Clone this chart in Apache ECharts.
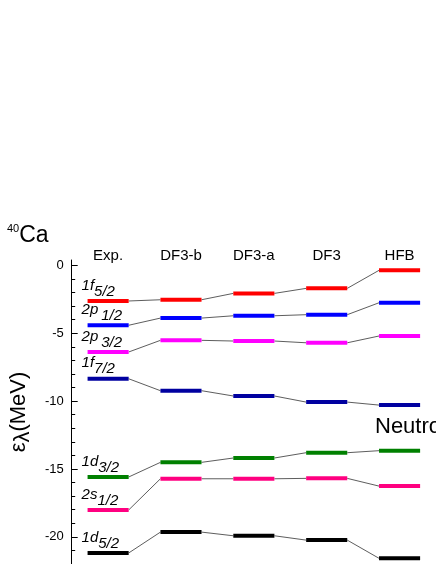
<!DOCTYPE html>
<html>
<head>
<meta charset="utf-8">
<script src="https://cdn.jsdelivr.net/npm/echarts@6/dist/echarts.min.js"></script>
<style>html,body{margin:0;padding:0;background:#fff;}#c{width:436px;height:564px;}</style>
</head>
<body>
<div id="c"></div>
<script>
var categories = ['Exp.', 'DF3-b', 'DF3-a', 'DF3', 'HFB'];
var lev1f52 = [-2.62, -2.53, -2.06, -1.69, -0.36];
var lev2p12 = [-4.41, -3.88, -3.71, -3.63, -2.75];
var lev2p32 = [-6.38, -5.52, -5.57, -5.70, -5.20];
var lev1f72 = [-8.35, -9.23, -9.62, -10.07, -10.29];
var lev1d32 = [-15.59, -14.51, -14.19, -13.80, -13.65];
var lev2s12 = [-18.02, -15.72, -15.72, -15.69, -16.26];
var lev1d52 = [-21.19, -19.65, -19.92, -20.24, -21.58];
var orbitalMain = ['1f', '2p', '2p', '1f', '1d', '2s', '1d'];
var orbitalSub = ['5/2', '1/2', '3/2', '7/2', '3/2', '1/2', '5/2'];
var majorTicks = [-20, -15, -10, -5, 0];
var minorTicks = [-22, -21, -19, -18, -17, -16, -14, -13, -12, -11, -9, -8, -7, -6, -4, -3, -2, -1];

var levels = [lev1f52, lev2p12, lev2p32, lev1f72, lev1d32, lev2s12, lev1d52];
var colors = ['#ff0000', '#0000ff', '#ff00ff', '#0000a0', '#008000', '#ff0080', '#000000'];
var FONT = 'Liberation Sans, Arial, sans-serif';
var LFS = 15;

var mctx = document.createElement('canvas').getContext('2d');
mctx.font = 'italic ' + LFS + 'px ' + FONT;
function textW(t) { return mctx.measureText(t).width; }

function makeSeries(k) {
  var arr = levels[k];
  return {
    type: 'custom',
    coordinateSystem: 'cartesian2d',
    data: arr.map(function (v, i) { return [i, v]; }),
    renderItem: function (params, api) {
      var i = api.value(0);
      var v = api.value(1);
      var c = api.coord([i, v]);
      var band = api.size([1, 0])[0];
      var half = band * 0.282;
      var children = [{
        type: 'line',
        shape: { x1: c[0] - half, y1: c[1], x2: c[0] + half, y2: c[1] },
        style: { stroke: colors[k], lineWidth: 4, lineCap: 'butt' },
        z2: 10
      }];
      if (i > 0) {
        var p = api.coord([i - 1, arr[i - 1]]);
        children.push({
          type: 'line',
          shape: { x1: p[0] + half, y1: p[1], x2: c[0] - half, y2: c[1] },
          style: { stroke: '#333', lineWidth: 0.8 },
          z2: 5
        });
      } else {
        var x0 = c[0] - half - 6;
        var mw = textW(orbitalMain[k]);
        var gap = orbitalMain[k].charAt(1) === 'p' ? 3 : 0;
        children.push({
          type: 'text',
          x: x0,
          y: c[1] - 23,
          style: {
            text: orbitalMain[k], fontSize: LFS, fontStyle: 'italic', fontFamily: FONT,
            fill: '#000', verticalAlign: 'top', align: 'left'
          }
        });
        children.push({
          type: 'text',
          x: x0 + mw + gap,
          y: c[1] - 17,
          style: {
            text: orbitalSub[k], fontSize: LFS, fontStyle: 'italic', fontFamily: FONT,
            fill: '#000', verticalAlign: 'top', align: 'left'
          }
        });
      }
      return { type: 'group', children: children };
    },
    silent: true,
    animation: false
  };
}

var chart = echarts.init(document.getElementById('c'), null, { renderer: 'canvas' });
chart.setOption({
  animation: false,
  backgroundColor: '#fff',
  title: {
    text: '{sup|40}{m|Ca}',
    left: 2,
    top: 218,
    textStyle: {
      fontWeight: 'normal',
      rich: {
        sup: { fontSize: 11, fontFamily: FONT, color: '#000', fontWeight: 'normal', verticalAlign: 'top', lineHeight: 24 },
        m: { fontSize: 23, fontFamily: FONT, color: '#000', fontWeight: 'normal', verticalAlign: 'bottom', lineHeight: 24 }
      }
    }
  },
  graphic: [{
    type: 'text',
    left: 375,
    top: 416,
    style: { text: 'Neutron', fontSize: 22, fontFamily: FONT, fill: '#000' }
  }],
  grid: { left: 67, right: -38.5, top: 260, bottom: 0, containLabel: false },
  xAxis: {
    type: 'category',
    data: categories,
    position: 'top',
    boundaryGap: true,
    axisLine: { show: false },
    axisTick: { show: false },
    axisLabel: { fontSize: 15, fontFamily: FONT, color: '#000', margin: -3 },
    splitLine: { show: false }
  },
  yAxis: [{
    type: 'value',
    min: -22,
    max: 0.4,
    position: 'left',
    axisLine: { show: true, lineStyle: { color: '#000', width: 1 } },
    axisTick: { show: true, inside: true, length: 6, customValues: majorTicks, lineStyle: { color: '#000' } },
    axisLabel: { fontSize: 13, fontFamily: FONT, color: '#000', margin: 8, customValues: majorTicks },
    splitLine: { show: false },
    name: 'ε{s|λ}(MeV)',
    nameLocation: 'middle',
    nameRotate: 90,
    nameGap: 37,
    nameTextStyle: {
      fontSize: 22, fontFamily: FONT, color: '#000',
      rich: { s: { fontSize: 22, fontFamily: FONT, color: '#000', padding: [8, 0, 0, 0] } }
    }
  }, {
    type: 'value',
    min: -22,
    max: 0.4,
    position: 'left',
    axisLine: { show: false },
    axisTick: { show: true, inside: true, length: 3.5, customValues: minorTicks, lineStyle: { color: '#000' } },
    axisLabel: { show: false },
    splitLine: { show: false }
  }],
  series: levels.map(function (_, k) { return makeSeries(k); })
});
</script>
</body>
</html>
